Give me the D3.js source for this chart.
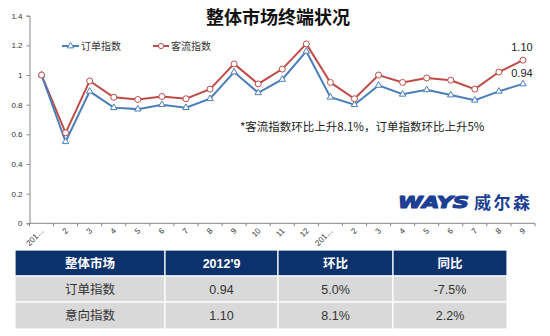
<!DOCTYPE html>
<html>
<head>
<meta charset="utf-8">
<script src="https://cdn.jsdelivr.net/npm/d3@7"></script>
<style>
  html, body { margin: 0; padding: 0; background: #fff; }
  svg { display: block; font-family: "Microsoft YaHei", "Noto Sans CJK SC", "DejaVu Sans", sans-serif; }
</style>
</head>
<body>
<svg id="chart" width="550" height="336"></svg>
<script>
// Month labels along the x axis (Jan 2011 → Sep 2012, first month of each year truncated)
const months = ["201…","2","3","4","5","6","7","8","9","10","11","12",
                "201…","2","3","4","5","6","7","8","9"];
// 订单指数 (order index)
const orderIndex = [1.00,0.55,0.89,0.78,0.77,0.80,0.78,0.84,1.02,0.88,0.97,1.16,
                    0.85,0.80,0.93,0.87,0.90,0.865,0.83,0.89,0.94];
// 客流指数 (traffic index)
const trafficIndex = [1.00,0.61,0.96,0.85,0.835,0.855,0.84,0.905,1.075,0.94,1.04,1.21,
                      0.95,0.84,1.00,0.95,0.98,0.965,0.905,1.02,1.10];
const yTicks = [0,0.2,0.4,0.6,0.8,1,1.2,1.4];
const yTickLabels = ["0","0.2","0.4","0.6","0.8","1","1.2","1.4"];

// Summary table
const tableHeader = ["整体市场","2012'9","环比","同比"];
const tableRows = [
  ["订单指数","0.94","5.0%","-7.5%"],
  ["意向指数","1.10","8.1%","2.2%"]
];

const svg = d3.select("#chart");
const blue = "#4a7ebb", red = "#be4b48";

const plot = {left: 29.5, right: 535, top: 15.7, bottom: 223.3};
const idx = d3.range(months.length);
const x = d3.scaleBand().domain(idx).range([plot.left, plot.right]);
const cx = i => x(i) + x.bandwidth() / 2;
const y = d3.scaleLinear().domain([0, 1.4]).range([plot.bottom, plot.top]);

// Title
svg.append("text").attr("x", 278).attr("y", 24).attr("text-anchor", "middle")
  .attr("font-size", 18).attr("font-weight", "bold").attr("fill", "#111")
  .text("整体市场终端状况");

// Y axis
const yAxis = d3.axisLeft(y).tickValues(yTicks)
  .tickFormat((d, i) => yTickLabels[i]).tickSize(3).tickPadding(4);
const gy = svg.append("g").attr("transform", `translate(${plot.left},0)`).call(yAxis);
gy.select(".domain").attr("stroke", "#868686");
gy.selectAll(".tick line").attr("stroke", "#868686");
gy.selectAll(".tick text").attr("font-size", 8).attr("fill", "#333")
  .attr("font-family", "Liberation Sans, Arial, sans-serif");

// X axis: ticks on band boundaries
const gx = svg.append("g").attr("transform", `translate(0,${plot.bottom})`);
gx.append("line").attr("x1", plot.left).attr("x2", plot.right)
  .attr("stroke", "#868686");
gx.selectAll("line.tk").data(d3.range(months.length + 1)).join("line")
  .attr("class", "tk")
  .attr("x1", i => plot.left + i * x.step()).attr("x2", i => plot.left + i * x.step())
  .attr("y1", 0).attr("y2", 3).attr("stroke", "#868686");
gx.selectAll("text").data(idx).join("text")
  .attr("transform", i => `translate(${cx(i) + 3},${8}) rotate(-45)`)
  .attr("text-anchor", "end").attr("font-size", 8).attr("fill", "#333")
  .attr("font-family", "Liberation Sans, Arial, sans-serif")
  .text(i => months[i]);

// Lines
const line = d3.line().x((d, i) => cx(i)).y(d => y(d));
svg.append("path").datum(trafficIndex).attr("d", line)
  .attr("fill", "none").attr("stroke", red).attr("stroke-width", 2);
svg.append("path").datum(orderIndex).attr("d", line)
  .attr("fill", "none").attr("stroke", blue).attr("stroke-width", 2);

// Markers
const tri = d3.symbol().type(d3.symbolTriangle).size(18);
svg.selectAll("path.mo").data(orderIndex).join("path").attr("class", "mo")
  .attr("d", tri)
  .attr("transform", (d, i) => `translate(${cx(i)},${y(d)})`)
  .attr("fill", "#fff").attr("stroke", blue).attr("stroke-width", 1);
svg.selectAll("circle.mt").data(trafficIndex).join("circle").attr("class", "mt")
  .attr("cx", (d, i) => cx(i)).attr("cy", d => y(d)).attr("r", 3)
  .attr("fill", "#fff").attr("stroke", red).attr("stroke-width", 1);

// End value labels
const last = months.length - 1;
svg.append("text").attr("x", cx(last) - 1).attr("y", y(trafficIndex[last]) - 9)
  .attr("text-anchor", "middle").attr("font-size", 11).attr("fill", "#222")
  .attr("font-family", "Liberation Sans, Arial, sans-serif")
  .text(trafficIndex[last].toFixed(2));
svg.append("text").attr("x", cx(last) - 1).attr("y", y(orderIndex[last]) - 7)
  .attr("text-anchor", "middle").attr("font-size", 11).attr("fill", "#222")
  .attr("font-family", "Liberation Sans, Arial, sans-serif")
  .text(orderIndex[last].toFixed(2));

// Legend
const lg = svg.append("g").attr("transform", "translate(0,46)");
lg.append("line").attr("x1", 62).attr("x2", 79).attr("stroke", blue).attr("stroke-width", 2);
lg.append("path").attr("d", tri).attr("transform", "translate(70.5,0)")
  .attr("fill", "#fff").attr("stroke", blue);
lg.append("text").attr("x", 81).attr("y", 4).attr("font-size", 10).attr("fill", "#333").text("订单指数");
lg.append("line").attr("x1", 153).attr("x2", 169).attr("stroke", red).attr("stroke-width", 2);
lg.append("circle").attr("cx", 161).attr("r", 2.6).attr("fill", "#fff").attr("stroke", red);
lg.append("text").attr("x", 171).attr("y", 4).attr("font-size", 10).attr("fill", "#333").text("客流指数");

// Annotation
svg.append("text").attr("x", 240).attr("y", 131).attr("font-size", 11.5).attr("fill", "#222")
  .text("*客流指数环比上升8.1%，订单指数环比上升5%");

// Brand mark
svg.append("text").attr("x", 398).attr("y", 208).attr("font-size", 16)
  .attr("font-weight", 900).attr("font-style", "italic").attr("fill", "#1c3f94")
  .attr("stroke", "#1c3f94").attr("stroke-width", 1.2).attr("stroke-linejoin", "round")
  .attr("font-family", "DejaVu Sans, sans-serif")
  .attr("textLength", 71).attr("lengthAdjust", "spacingAndGlyphs")
  .text("WAYS");
svg.append("text").attr("x", 474).attr("y", 209).attr("font-size", 17)
  .attr("font-weight", "bold").attr("fill", "#1c3f94")
  .attr("textLength", 56).attr("lengthAdjust", "spacing")
  .text("威尔森");

// Table
const colX = [15, 165, 278, 393, 507];
const rowY = [250, 276, 302, 329];
const tg = svg.append("g");
const allRows = [tableHeader, ...tableRows];
allRows.forEach((row, r) => {
  row.forEach((cell, c) => {
    tg.append("rect").attr("x", colX[c]).attr("y", rowY[r])
      .attr("width", colX[c + 1] - colX[c]).attr("height", rowY[r + 1] - rowY[r])
      .attr("fill", r === 0 ? "#0c326d" : "#d9d9d9")
      .attr("stroke", "#fff").attr("stroke-width", 1.2);
    tg.append("text").attr("x", (colX[c] + colX[c + 1]) / 2)
      .attr("y", (rowY[r] + rowY[r + 1]) / 2 + 4.5)
      .attr("text-anchor", "middle").attr("font-size", 12.5)
      .attr("font-weight", r === 0 ? "bold" : "normal")
      .attr("fill", r === 0 ? "#fff" : "#333")
      .attr("font-family", /[0-9%]/.test(cell) && !/[\u4e00-\u9fff]/.test(cell)
        ? "Liberation Sans, Arial, sans-serif" : null)
      .text(cell);
  });
});
</script>
</body>
</html>
